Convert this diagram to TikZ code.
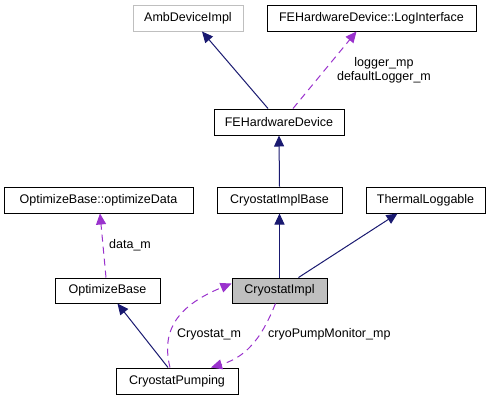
\documentclass[tikz,border=0pt]{standalone}
\usepackage{fontspec}
\setmainfont{Liberation Sans}
\usetikzlibrary{arrows.meta}
\definecolor{navyedge}{HTML}{191970}
\definecolor{purpedge}{HTML}{9A32CD}
\definecolor{grayfill}{HTML}{BFBFBF}
\begin{document}
\begin{tikzpicture}[x=1pt,y=-1pt,
  cls/.style={draw=black,line width=1pt,fill=white,minimum height=26pt,inner sep=0pt,font=\fontsize{12.5}{14}\selectfont},
  ext/.style={cls,draw=grayfill},
  cur/.style={cls,fill=grayfill},
  inh/.style={draw=navyedge,line width=1pt,-{Triangle[length=11pt,width=10pt]}},
  use/.style={draw=purpedge,line width=1pt,dash pattern=on 7pt off 5pt,-{Triangle[length=11pt,width=10pt]}},
  lbl/.style={font=\fontsize{12.5}{14}\selectfont,inner sep=0pt,align=center}]
\useasboundingbox (0,0) rectangle (492,400);
\node[ext,minimum width=110pt] (amb) at (188,18) {AmbDeviceImpl};
\node[cls,minimum width=209pt] (log) at (371.5,18) {FEHardwareDevice::LogInterface};
\node[cls,minimum width=130pt] (fe) at (279,122) {FEHardwareDevice};
\node[cls,minimum width=189pt] (od) at (98.5,200) {OptimizeBase::optimizeData};
\node[cls,minimum width=125pt] (cib) at (279.5,200) {CryostatImplBase};
\node[cls,minimum width=119pt] (tl) at (425.5,200) {ThermalLoggable};
\node[cls,minimum width=105pt,minimum height=25pt] (ob) at (107.5,290.5) {OptimizeBase};
\node[cur,minimum width=95pt,minimum height=25pt] (ci) at (279.5,290.5) {CryostatImpl};
\node[cls,minimum width=122pt] (cp) at (177,381) {CryostatPumping};

\draw[inh] ([xshift=-11pt]fe.north) -- ([xshift=14pt]amb.south);
\draw[use] ([xshift=14pt]fe.north) -- ([xshift=-15pt]log.south);
\node[lbl] (l1) at (384,70) {logger\_mp\\defaultLogger\_m};
\draw[inh] (cib.north) -- (fe.south);
\draw[inh] (ci.north) -- (cib.south);
\draw[inh] ([xshift=19pt]ci.north) -- ([xshift=-28pt]tl.south);
\draw[use] ([xshift=-1.5pt]ob.north) -- ([xshift=1.5pt]od.south);
\node[lbl,anchor=west] (l2) at (109,245) {data\_m};
\draw[inh] ([xshift=-9pt]cp.north) -- ([xshift=10pt]ob.south);
\draw[use] ([xshift=-7pt]cp.north) .. controls (162,335) and (172,308) .. ([yshift=7pt]ci.west);
\node[lbl,anchor=west] (l3) at (177,334) {Cryostat\_m};
\draw[use] ([xshift=-4pt]ci.south) .. controls (264,332) and (250,356) .. ([xshift=34pt]cp.north);
\node[lbl,anchor=west] (l4) at (268,334) {cryoPumpMonitor\_mp};
\end{tikzpicture}
\end{document}
